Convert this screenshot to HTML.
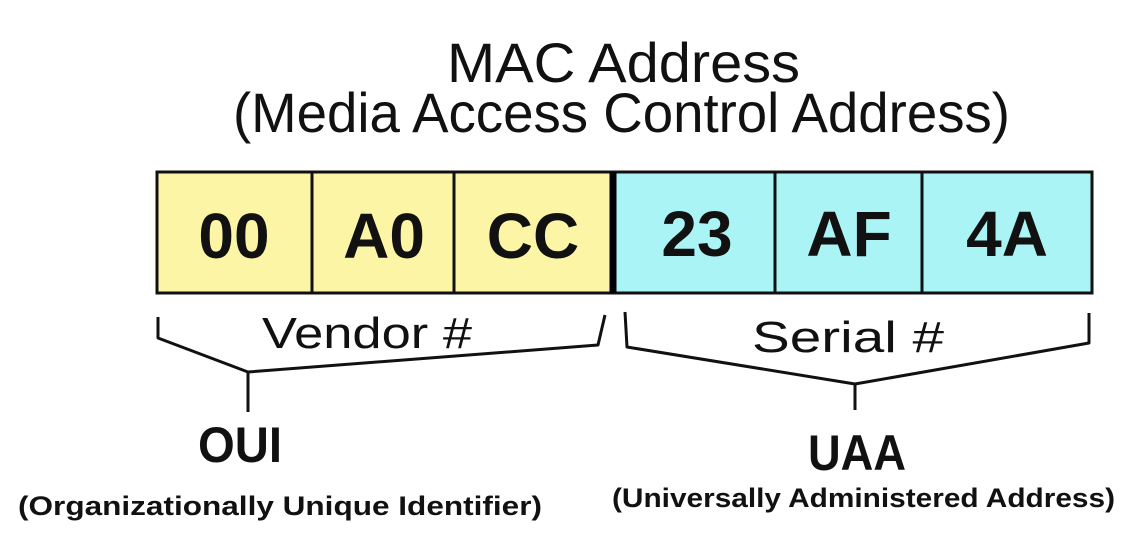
<!DOCTYPE html>
<html><head><meta charset="utf-8"><style>
html,body{margin:0;padding:0;background:#fff;}
svg{display:block;}
</style></head><body>
<svg width="1133" height="542" viewBox="0 0 1133 542" xmlns="http://www.w3.org/2000/svg" font-family="Liberation Sans, sans-serif">
<text x="447" y="82" font-size="56" textLength="353" lengthAdjust="spacingAndGlyphs" fill="#111">MAC Address</text>
<text x="233" y="132" font-size="56" textLength="777" lengthAdjust="spacingAndGlyphs" fill="#111">(Media Access Control Address)</text>
<rect x="157" y="172" width="456" height="121" fill="#fdf5a6"/>
<rect x="613" y="172" width="479" height="121" fill="#aaf4f6"/>
<g stroke="#111" stroke-width="3" fill="none">
<rect x="157" y="172" width="935" height="121"/>
<line x1="312" y1="172" x2="312" y2="293"/>
<line x1="454" y1="172" x2="454" y2="293"/>
<line x1="775" y1="172" x2="775" y2="293"/>
<line x1="922" y1="172" x2="922" y2="293"/>
</g>
<line x1="613" y1="172" x2="613" y2="293" stroke="#000" stroke-width="7"/>
<g font-weight="bold" font-size="64" fill="#111" text-anchor="middle">
<text x="234" y="258">00</text>
<text x="384" y="258">A0</text>
<text x="533" y="258">CC</text>
<text x="697" y="256">23</text>
<text x="849" y="256">AF</text>
<text x="1007" y="256">4A</text>
</g>
<g stroke="#111" stroke-width="3" fill="none" stroke-linejoin="round">
<polyline points="158,317 158,338 248,372 598,345 605,315"/>
<line x1="248" y1="372" x2="248" y2="412"/>
<polyline points="625,312 627,347 855,384 1089,343 1089,313"/>
<line x1="855" y1="384" x2="855" y2="410"/>
</g>
<text x="262" y="348" font-size="44" textLength="210" lengthAdjust="spacingAndGlyphs" fill="#111">Vendor #</text>
<text x="752" y="352" font-size="44" textLength="192" lengthAdjust="spacingAndGlyphs" fill="#111">Serial #</text>
<text x="198" y="462" font-size="50" font-weight="bold" textLength="84" lengthAdjust="spacingAndGlyphs" fill="#111">OUI</text>
<text x="808" y="470" font-size="50" font-weight="bold" textLength="98" lengthAdjust="spacingAndGlyphs" fill="#111">UAA</text>
<text x="18" y="515" font-size="27" font-weight="bold" textLength="524" lengthAdjust="spacingAndGlyphs" fill="#111">(Organizationally Unique Identifier)</text>
<text x="612" y="507" font-size="27" font-weight="bold" textLength="503" lengthAdjust="spacingAndGlyphs" fill="#111">(Universally Administered Address)</text>
</svg>
</body></html>
